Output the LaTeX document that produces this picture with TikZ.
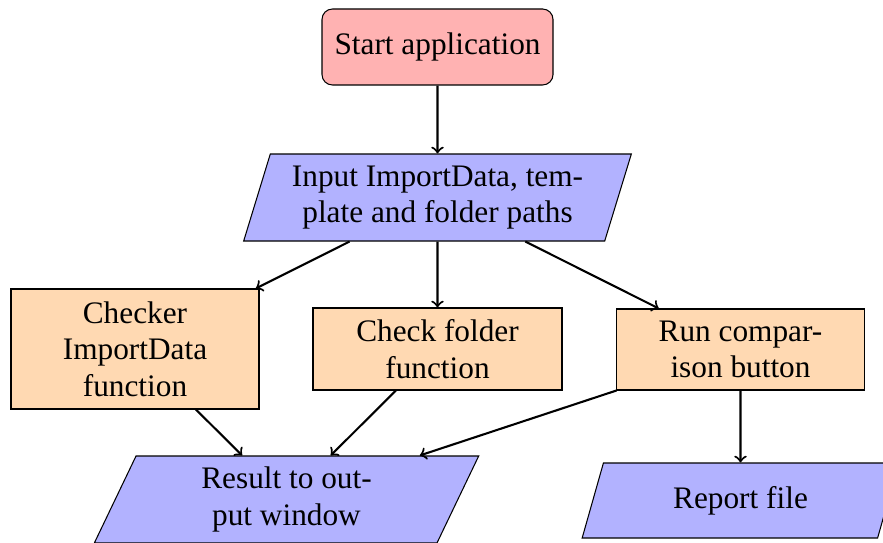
\documentclass[tikz,border=0pt]{standalone}
\usepackage{fontspec}
\setmainfont{Liberation Serif}
\usetikzlibrary{shapes.geometric}
% one drawing unit = 1/2.608 pt
\newdimen\pxd
\pxd=0.3834pt
\begin{document}
\begin{tikzpicture}[x=0.3834pt,y=-0.3834pt,
  font=\fontsize{12}{14}\selectfont,
  startbox/.style={draw, thin, rounded corners=4pt, fill=red!30, align=center, inner sep=0pt},
  procbox/.style={draw, thin, fill=orange!30, align=center, inner sep=0pt},
  iobox/.style={draw, thin, fill=blue!30, trapezium, trapezium left angle=70,
    trapezium right angle=110, trapezium stretches=true, align=center, inner sep=0pt},
  flow/.style={thick, ->}]
\useasboundingbox (0,0) rectangle (883,542);

\node[startbox, minimum width=231*\pxd, minimum height=76*\pxd] (start) at (437.5,47) {Start application};
\node[iobox, minimum width=388*\pxd, minimum height=87*\pxd] (input) at (437.5,197.5)
  {Input ImportData, tem-\\plate and folder paths};

\node[procbox, minimum width=248*\pxd, minimum height=120*\pxd] (checker) at (135,349)
  {Checker\\ImportData\\function};
\node[procbox, minimum width=249*\pxd, minimum height=82*\pxd] (folder) at (437.5,349)
  {Check folder\\function};
\node[procbox, minimum width=248*\pxd, minimum height=81*\pxd] (run) at (740.5,349.5)
  {Run compar-\\ison button};

\node[iobox, minimum width=387*\pxd, minimum height=87*\pxd] (result) at (286.5,499.5)
  {Result to out-\\put window};
\node[iobox, minimum width=318*\pxd, minimum height=75*\pxd] (report) at (740.5,500.5)
  {Report file};

\draw[flow] (start) -- (input);
\draw[flow] (input) -- (checker);
\draw[flow] (input) -- (folder);
\draw[flow] (input) -- (run);
\draw[flow] (checker) -- (result);
\draw[flow] (folder) -- (result);
\draw[flow] (run) -- (result);
\draw[flow] (run) -- (report);
\end{tikzpicture}
\end{document}
